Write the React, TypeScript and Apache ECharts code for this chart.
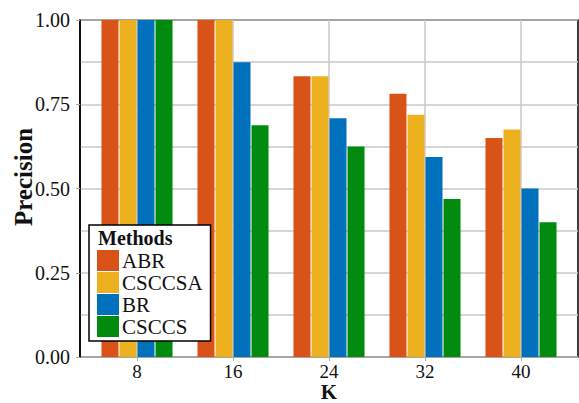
import React, { useEffect, useRef } from "react";
import * as echarts from "echarts";

const categories = ["8", "16", "24", "32", "40"];
const seriesNames = ["ABR", "CSCCSA", "BR", "CSCCS"];
const abr = [1.0, 1.0, 0.8333, 0.78125, 0.65];
const csccsa = [1.0, 1.0, 0.8333, 0.71875, 0.675];
const br = [1.0, 0.875, 0.7083, 0.59375, 0.5];
const csccs = [1.0, 0.6875, 0.625, 0.46875, 0.4];
const colors = ["#D95319", "#EDB120", "#0072BD", "#008B0E"];
const yTicks = { min: 0, max: 1, interval: 0.25 };

const FONT = "Liberation Serif";

export default function App() {
  const ref = useRef<HTMLDivElement>(null);
  useEffect(() => {
    if (!ref.current) return;
    const chart = echarts.init(ref.current, null, { renderer: "svg" });
    const values = [abr, csccsa, br, csccs];
    const option: any = {
      animation: false,
      backgroundColor: "#fff",
      textStyle: { fontFamily: FONT },
      grid: [
        {
          left: 80, right: 1, top: 20, bottom: 46, show: true,
          borderColor: "#000", borderWidth: 1.5, backgroundColor: "transparent",
          outerBoundsMode: "none", containLabel: false,
        },
        { left: 89, right: 10, top: 20, bottom: 46, outerBoundsMode: "none", containLabel: false },
      ],
      xAxis: [
        { gridIndex: 0, type: "value", min: 0, max: 1, show: false },
        {
          gridIndex: 1,
          type: "category",
          data: categories,
          axisLine: { show: false },
          axisTick: { show: true, alignWithLabel: true, length: 4, lineStyle: { color: "#aaa", width: 1 } },
          splitLine: { show: true, alignWithLabel: true, lineStyle: { color: "#c8c8c8", width: 1.5 } },
          axisLabel: { color: "#111", fontSize: 19, fontFamily: FONT, margin: 5 },
        },
      ],
      yAxis: [
        {
          gridIndex: 0,
          type: "value",
          min: yTicks.min,
          max: yTicks.max,
          interval: yTicks.interval,
          axisLine: { show: true, lineStyle: { color: "#000", width: 1.5 } },
          axisTick: { show: true, length: 4, lineStyle: { color: "#aaa" } },
          axisLabel: {
            color: "#111",
            fontSize: 20,
            fontFamily: FONT,
            margin: 10,
            formatter: (v: number) => v.toFixed(2),
          },
          splitLine: { show: true, lineStyle: { color: "#c8c8c8", width: 1.5 } },
          minorTick: { show: false, splitNumber: 2 },
          minorSplitLine: { show: true, lineStyle: { color: "#c8c8c8", width: 1.5 } },
        },
        { gridIndex: 1, type: "value", min: yTicks.min, max: yTicks.max, show: false },
      ],
      legend: {
        orient: "vertical",
        left: 89,
        top: 225,
        data: seriesNames,
        icon: "rect",
        itemWidth: 22,
        itemHeight: 21,
        itemGap: 1,
        padding: [25, 8, 4, 8],
        backgroundColor: "#fff",
        borderColor: "#000",
        borderWidth: 1.5,
        borderRadius: 0,
        textStyle: { color: "#111", fontSize: 21, fontFamily: FONT, padding: [0, 0, 0, -2] },
        z: 20,
      },
      graphic: [
        {
          type: "text",
          left: 98,
          top: 228,
          z: 100,
          style: { text: "Methods", font: `bold 20px ${FONT}`, fill: "#111" },
        },
        {
          type: "text",
          x: 11,
          y: 177,
          rotation: Math.PI / 2,
          z: 100,
          style: {
            text: "Precision",
            font: `bold 25px ${FONT}`,
            fill: "#111",
            align: "center",
            verticalAlign: "top",
          },
        },
        {
          type: "text",
          x: 329,
          y: 402,
          z: 100,
          style: {
            text: "K",
            font: `bold 21px ${FONT}`,
            fill: "#111",
            align: "center",
            verticalAlign: "bottom",
          },
        },
      ],
      series: seriesNames.map((name, i) => ({
        name,
        type: "bar",
        xAxisIndex: 1,
        yAxisIndex: 1,
        data: values[i],
        barWidth: 17,
        barGap: "6%",
        itemStyle: { color: colors[i] },
        z: 5,
      })),
    };
    chart.setOption(option);
    return () => chart.dispose();
  }, []);
  return (
    <div
      ref={ref}
      style={{ position: "fixed", left: 0, top: 0, width: 579, height: 403, background: "#fff" }}
    />
  );
}
